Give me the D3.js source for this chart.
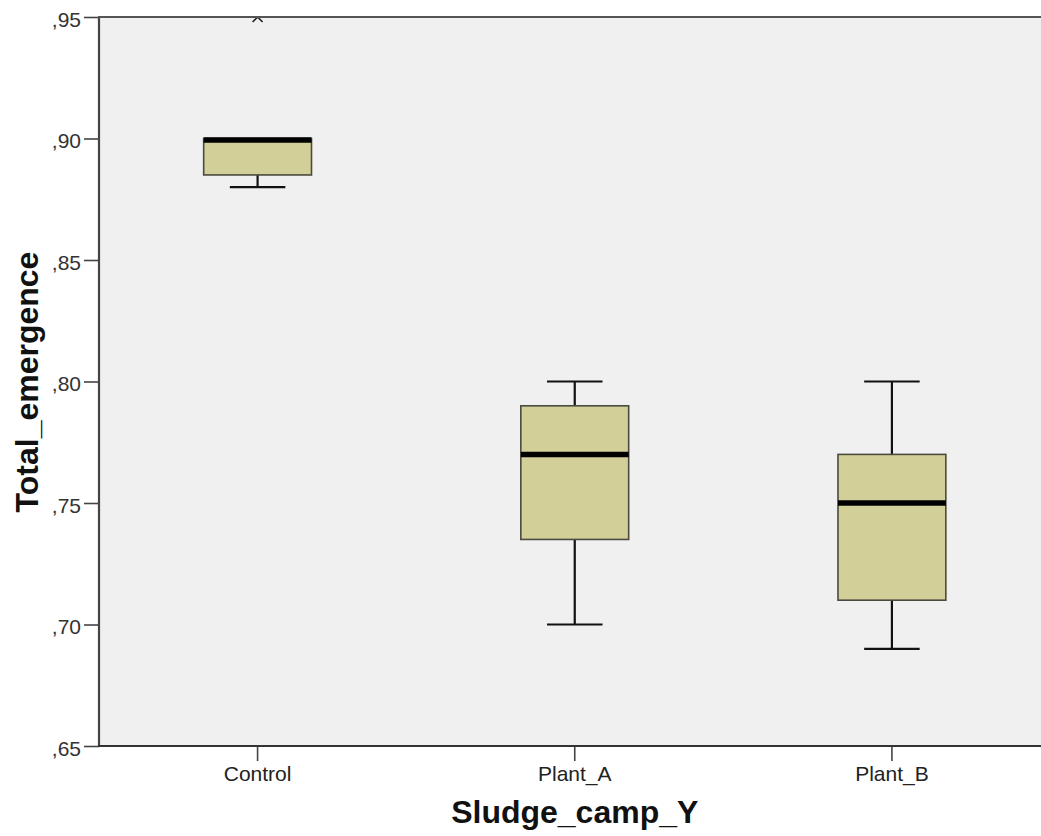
<!DOCTYPE html>
<html>
<head>
<meta charset="utf-8">
<script src="https://cdn.jsdelivr.net/npm/d3@7"></script>
<style>
  html, body { margin: 0; padding: 0; background: #ffffff; }
  svg { display: block; }
</style>
</head>
<body>
<svg id="chart" width="1041" height="836"></svg>
<script>
// Box plot summaries of total emergence for each sludge group
const categories = ["Control", "Plant_A", "Plant_B"];
const whiskerLow  = [0.880, 0.700, 0.690];
const quartile1   = [0.885, 0.735, 0.710];
const medians     = [0.900, 0.770, 0.750];
const quartile3   = [0.900, 0.790, 0.770];
const whiskerHigh = [0.900, 0.800, 0.800];
// Extreme values flagged beyond the whiskers
const extremeGroups = ["Control"];
const extremeValues = [0.950];
const yTicks = [0.65, 0.70, 0.75, 0.80, 0.85, 0.90, 0.95];

(function () {
const rows = categories.map((c, i) => ({
  cat: c, lo: whiskerLow[i], q1: quartile1[i], med: medians[i], q3: quartile3[i], hi: whiskerHigh[i]
}));

const svg = d3.select("#chart");
const plotLeft = 99, plotTop = 17, plotBottom = 746, plotRight = 1050.5;

const x = d3.scaleBand().domain(categories).range([plotLeft, plotRight]).paddingInner(0).paddingOuter(0);
const y = d3.scaleLinear().domain([0.65, 0.95]).range([plotBottom, plotTop]);

const boxW = x.bandwidth() * 0.34;
const capW = x.bandwidth() * 0.175;
const font = "Arial, 'Liberation Sans', sans-serif";

// plot background
svg.append("rect")
  .attr("x", plotLeft).attr("y", plotTop)
  .attr("width", plotRight - plotLeft).attr("height", plotBottom - plotTop)
  .attr("fill", "#f0f0f0");

svg.append("clipPath").attr("id", "plotClip")
  .append("rect").attr("x", plotLeft).attr("y", plotTop)
  .attr("width", plotRight - plotLeft).attr("height", plotBottom - plotTop);

const fmt = v => "," + d3.format(".2f")(v).split(".")[1];

const g = svg.append("g");

rows.forEach(r => {
  const cx = x(r.cat) + x.bandwidth() / 2;
  const grp = g.append("g");
  // upper whisker
  if (r.hi > r.q3) {
    grp.append("line").attr("x1", cx).attr("x2", cx).attr("y1", y(r.q3)).attr("y2", y(r.hi))
      .attr("stroke", "#111").attr("stroke-width", 2.2);
    grp.append("line").attr("x1", cx - capW / 2).attr("x2", cx + capW / 2).attr("y1", y(r.hi)).attr("y2", y(r.hi))
      .attr("stroke", "#111").attr("stroke-width", 2.2);
  }
  // lower whisker
  grp.append("line").attr("x1", cx).attr("x2", cx).attr("y1", y(r.q1)).attr("y2", y(r.lo))
    .attr("stroke", "#111").attr("stroke-width", 2.2);
  grp.append("line").attr("x1", cx - capW / 2).attr("x2", cx + capW / 2).attr("y1", y(r.lo)).attr("y2", y(r.lo))
    .attr("stroke", "#111").attr("stroke-width", 2.2);
  // box
  grp.append("rect")
    .attr("x", cx - boxW / 2).attr("y", y(r.q3))
    .attr("width", boxW).attr("height", y(r.q1) - y(r.q3))
    .attr("fill", "#d3cf98").attr("stroke", "#4a4a40").attr("stroke-width", 1.6);
  // median
  const my = y(r.med) + (r.med === r.q3 ? 1.5 : 0);
  grp.append("line")
    .attr("x1", cx - boxW / 2).attr("x2", cx + boxW / 2)
    .attr("y1", my).attr("y2", my)
    .attr("stroke", "#000").attr("stroke-width", 5.5);
});

// extreme markers
const ex = svg.append("g").attr("clip-path", "url(#plotClip)");
extremeGroups.forEach((c, i) => {
  const cx = x(c) + x.bandwidth() / 2;
  const cy = y(extremeValues[i]);
  const s = 5;
  ex.append("path")
    .attr("d", `M${cx - s},${cy - s}L${cx + s},${cy + s}M${cx - s},${cy + s}L${cx + s},${cy - s}`)
    .attr("stroke", "#222").attr("stroke-width", 1.6).attr("fill", "none");
});

// axes
const yAxis = d3.axisLeft(y).tickValues(yTicks).tickFormat(fmt).tickSize(15).tickPadding(3);
const yg = svg.append("g").attr("transform", `translate(${plotLeft},0)`).call(yAxis);
yg.select(".domain").remove();
yg.selectAll(".tick line").attr("stroke", "#444").attr("stroke-width", 1.6);
yg.selectAll(".tick text").attr("fill", "#333").attr("dy", "0.45em")
  .style("font-family", font).style("font-size", "21px");

const xAxis = d3.axisBottom(x).tickSize(15).tickPadding(5);
const xg = svg.append("g").attr("transform", `translate(0,${plotBottom})`).call(xAxis);
xg.select(".domain").remove();
xg.selectAll(".tick line").attr("stroke", "#444").attr("stroke-width", 1.6);
xg.selectAll(".tick text").attr("fill", "#222").style("font-family", font).style("font-size", "21px");

// frame lines on left, top and bottom
svg.append("line").attr("x1", plotLeft).attr("x2", plotLeft).attr("y1", plotTop).attr("y2", plotBottom)
  .attr("stroke", "#444").attr("stroke-width", 2.2);
svg.append("line").attr("x1", plotLeft - 1).attr("x2", plotRight).attr("y1", plotBottom).attr("y2", plotBottom)
  .attr("stroke", "#333").attr("stroke-width", 2.2);
svg.append("line").attr("x1", plotLeft - 1).attr("x2", plotRight).attr("y1", plotTop).attr("y2", plotTop)
  .attr("stroke", "#555").attr("stroke-width", 2.2);

// axis titles
svg.append("text")
  .attr("transform", `translate(38,382) rotate(-90)`)
  .attr("text-anchor", "middle")
  .style("font-family", font)
  .style("font-size", "32px").style("font-weight", "bold").attr("fill", "#111")
  .text("Total_emergence");

svg.append("text")
  .attr("x", x("Plant_A") + x.bandwidth() / 2).attr("y", 823)
  .attr("text-anchor", "middle")
  .style("font-family", font)
  .style("font-size", "32px").style("font-weight", "bold").attr("fill", "#111")
  .text("Sludge_camp_Y");
})();
</script>
</body>
</html>
